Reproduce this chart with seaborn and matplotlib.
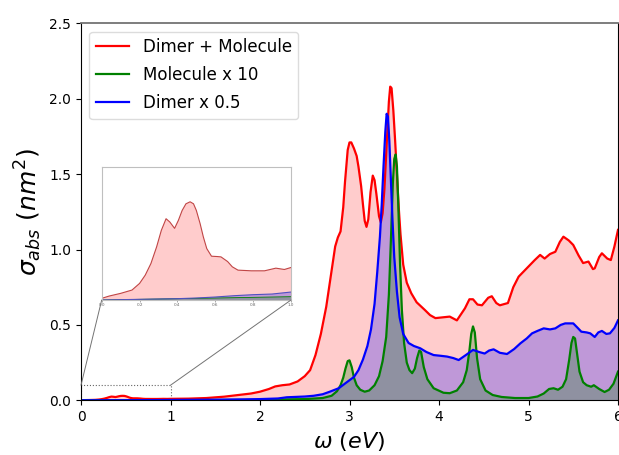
import numpy as np
import pandas as pd
import matplotlib
matplotlib.use("Agg")
import matplotlib.pyplot as plt
import seaborn as sns
from matplotlib.patches import Rectangle, ConnectionPatch

# ---------------- data ----------------
x_red = [0.0, 0.04, 0.1, 0.16, 0.2, 0.23, 0.26, 0.29, 0.315, 0.34, 0.36, 0.385,
         0.405, 0.425, 0.445, 0.467, 0.485, 0.5, 0.52, 0.537, 0.555, 0.58, 0.61,
         0.63, 0.665, 0.69, 0.72, 0.79, 0.86, 0.92, 0.965, 1.0, 1.2, 1.4, 1.6, 1.8,
         1.9, 2.0, 2.1, 2.17, 2.25, 2.33, 2.42, 2.5, 2.56, 2.62, 2.68, 2.74, 2.8,
         2.84, 2.87, 2.9, 2.93, 2.95, 2.98, 3.0, 3.02, 3.05, 3.08, 3.1, 3.13, 3.15,
         3.17, 3.19, 3.21, 3.235, 3.26, 3.28, 3.3, 3.33, 3.35, 3.37, 3.39, 3.42,
         3.44, 3.455, 3.47, 3.49, 3.51, 3.53, 3.55, 3.57, 3.6, 3.64, 3.69, 3.75,
         3.84, 3.9, 3.96, 4.04, 4.12, 4.2, 4.29, 4.34, 4.38, 4.43, 4.48, 4.55, 4.59,
         4.64, 4.68, 4.77, 4.83, 4.89, 4.98, 5.07, 5.13, 5.18, 5.24, 5.3, 5.35,
         5.39, 5.45, 5.5, 5.56, 5.61, 5.67, 5.72, 5.74, 5.79, 5.82, 5.88, 5.92,
         5.96, 6.0]
y_red = [0.0005, 0.0012, 0.002, 0.003, 0.005, 0.0075, 0.011, 0.016, 0.021, 0.0245,
         0.0235, 0.0216, 0.024, 0.027, 0.029, 0.0296, 0.029, 0.027, 0.023, 0.019,
         0.0155, 0.0132, 0.0131, 0.013, 0.0116, 0.01, 0.009, 0.0088, 0.0088, 0.0096,
         0.0092, 0.0098, 0.011, 0.015, 0.024, 0.038, 0.045, 0.057, 0.075, 0.092,
         0.1, 0.105, 0.125, 0.16, 0.2, 0.3, 0.44, 0.62, 0.86, 1.02, 1.08, 1.12,
         1.28, 1.45, 1.66, 1.71, 1.71, 1.67, 1.62, 1.55, 1.42, 1.3, 1.19, 1.15,
         1.2, 1.38, 1.49, 1.46, 1.37, 1.22, 1.18, 1.24, 1.4, 1.75, 1.98, 2.08,
         2.07, 1.92, 1.72, 1.5, 1.28, 1.1, 0.9, 0.78, 0.71, 0.65, 0.6, 0.565, 0.545,
         0.55, 0.555, 0.53, 0.61, 0.67, 0.67, 0.635, 0.63, 0.68, 0.69, 0.645, 0.63,
         0.645, 0.75, 0.82, 0.875, 0.93, 0.964, 0.94, 0.97, 0.985, 1.05, 1.085,
         1.06, 1.03, 0.96, 0.91, 0.92, 0.87, 0.875, 0.95, 0.975, 0.94, 0.93, 1.02,
         1.13]

x_green = [0.0, 1.0, 2.0, 2.5, 2.7, 2.8, 2.86, 2.9, 2.93, 2.955, 2.98, 3.0, 3.025,
           3.05, 3.08, 3.12, 3.17, 3.22, 3.28, 3.33, 3.37, 3.41, 3.44, 3.465, 3.485,
           3.5, 3.515, 3.53, 3.545, 3.565, 3.585, 3.61, 3.64, 3.67, 3.7, 3.73, 3.755,
           3.78, 3.8, 3.83, 3.87, 3.94, 4.05, 4.12, 4.2, 4.27, 4.31, 4.34, 4.36,
           4.38, 4.4, 4.425, 4.46, 4.52, 4.6, 4.7, 4.85, 5.0, 5.1, 5.17, 5.23, 5.28,
           5.33, 5.38, 5.42, 5.455, 5.48, 5.5, 5.52, 5.545, 5.57, 5.61, 5.65, 5.7,
           5.73, 5.79, 5.85, 5.9, 5.95, 6.0]
y_green = [0.0, 0.001, 0.003, 0.008, 0.015, 0.03, 0.06, 0.1, 0.15, 0.21, 0.26,
           0.265, 0.22, 0.15, 0.1, 0.07, 0.057, 0.065, 0.1, 0.16, 0.26, 0.42, 0.7,
           1.1, 1.45, 1.6, 1.63, 1.55, 1.3, 0.9, 0.6, 0.38, 0.25, 0.2, 0.18, 0.21,
           0.28, 0.33, 0.32, 0.22, 0.14, 0.08, 0.05, 0.047, 0.065, 0.12, 0.2, 0.33,
           0.44, 0.49, 0.45, 0.28, 0.14, 0.065, 0.035, 0.022, 0.015, 0.015, 0.025,
           0.045, 0.075, 0.08, 0.07, 0.09, 0.14, 0.27, 0.38, 0.42, 0.41, 0.3, 0.19,
           0.12, 0.1, 0.09, 0.1, 0.075, 0.055, 0.07, 0.11, 0.19]

x_blue = [0.0, 0.2, 0.4, 0.5, 0.6, 0.7, 0.8, 0.9, 1.0, 1.2, 1.5, 1.8, 2.0, 2.2, 2.3,
          2.5, 2.6, 2.7, 2.78, 2.88, 2.97, 3.05, 3.1, 3.15, 3.2, 3.24, 3.28, 3.31,
          3.34, 3.36, 3.38, 3.4, 3.415, 3.43, 3.445, 3.46, 3.48, 3.5, 3.53, 3.56,
          3.6, 3.66, 3.72, 3.79, 3.86, 3.94, 4.02, 4.09, 4.16, 4.22, 4.3, 4.38,
          4.45, 4.51, 4.56, 4.61, 4.68, 4.76, 4.84, 4.91, 4.98, 5.04, 5.1, 5.17,
          5.24, 5.3, 5.36, 5.41, 5.5, 5.55, 5.59, 5.65, 5.69, 5.74, 5.78, 5.82,
          5.87, 5.91, 5.96, 6.0]
y_blue = [0.0, 0.0002, 0.0004, 0.0006, 0.0009, 0.0013, 0.0016, 0.0018, 0.0024, 0.003,
          0.004, 0.006, 0.008, 0.012, 0.02, 0.025, 0.03, 0.04, 0.057, 0.08, 0.12,
          0.155, 0.2, 0.27, 0.36, 0.47, 0.64, 0.85, 1.085, 1.3, 1.55, 1.78, 1.9,
          1.88, 1.72, 1.5, 1.2, 0.95, 0.72, 0.55, 0.44, 0.38, 0.36, 0.345, 0.32,
          0.3, 0.295, 0.29, 0.28, 0.267, 0.3, 0.334, 0.32, 0.31, 0.33, 0.338, 0.315,
          0.307, 0.34, 0.378, 0.41, 0.444, 0.46, 0.477, 0.47, 0.477, 0.5, 0.51,
          0.51, 0.48, 0.455, 0.45, 0.444, 0.42, 0.45, 0.46, 0.44, 0.444, 0.48, 0.53]

labels = ["Dimer + Molecule", "Molecule x 10", "Dimer x 0.5"]
x_ticks = [0, 1, 2, 3, 4, 5, 6]
y_ticks = [0.0, 0.5, 1.0, 1.5, 2.0, 2.5]
inset_ticks = [0.0, 0.2, 0.4, 0.6, 0.8, 1.0]

series = [(x_red, y_red, "red", 0.2), (x_green, y_green, "green", 0.25),
          (x_blue, y_blue, "blue", 0.25)]

# ---------------- figure ----------------
W, H = 619, 455
fig = plt.figure(figsize=(W / 100, H / 100), dpi=100)
ax = fig.add_axes([81 / W, 1 - 400.3 / H, (618 - 81) / W, (400.3 - 23.3) / H])

# fills: red, blue, green (back to front)
for idx in [0, 2, 1]:
    xs, ys, c, a = series[idx]
    ax.fill_between(xs, ys, 0, color=c, alpha=a, lw=0)

for (xs, ys, c, a), lab in zip(series, labels):
    df = pd.DataFrame({"omega": xs, "sigma": ys})
    sns.lineplot(data=df, x="omega", y="sigma", color=c, lw=1.6, label=lab,
                 ax=ax, estimator=None, sort=False, solid_joinstyle="round")

ax.set_xlim(0, 6)
ax.set_ylim(0, 2.5)
ax.set_xticks(x_ticks)
ax.set_yticks(y_ticks)
ax.tick_params(labelsize=10)
ax.set_xlabel(r"$\omega\ (eV)$", fontsize=16)
ax.set_ylabel(r"$\sigma_{abs}\ (nm^2)$", fontsize=18)
ax.spines["top"].set_color("0.45")
ax.spines["top"].set_linewidth(1.3)
leg = ax.legend(loc="upper left", fontsize=12, labelspacing=0.6,
                frameon=True, framealpha=0.9)
leg.get_frame().set_edgecolor("0.85")

# inset
axins = fig.add_axes([101.7 / W, 1 - 300 / H, (291 - 101.7) / W, (300 - 167.3) / H])
for idx in [0, 2, 1]:
    xs, ys, c, a = series[idx]
    axins.fill_between(xs, ys, 0, color=c, alpha=a, lw=0)
for (xs, ys, c, a), lw, lc in zip(series, [0.8, 0.6, 0.8], ["#c04545", "green", "#5050c0"]):
    df = pd.DataFrame({"omega": xs, "sigma": ys})
    sns.lineplot(data=df, x="omega", y="sigma", color=lc, lw=lw, ax=axins,
                 estimator=None, sort=False, legend=False)
axins.set_xlim(0, 1)
axins.set_ylim(0, 0.04)
axins.set_xticks(inset_ticks)
axins.set_xticklabels([f"{t:.1f}" for t in inset_ticks])
axins.set_yticks([])
axins.set_xlabel("")
axins.set_ylabel("")
axins.tick_params(axis="x", labelsize=3, length=1.5, width=0.4, pad=1,
                  colors="0.4")
for sp in axins.spines.values():
    sp.set_color("0.75")
    sp.set_linewidth(0.8)

# zoom-region marker and connectors
rect = Rectangle((0, 0), 1, 0.1, fill=False, ec="0.4", lw=0.8, ls=":")
ax.add_patch(rect)
for xa, xb in [(0, 0), (1, 1)]:
    con = ConnectionPatch(xyA=(xa, 0.1), coordsA=ax.transData,
                          xyB=(xb, 0), coordsB=axins.transAxes,
                          color="0.45", lw=0.7)
    fig.add_artist(con)

fig.savefig("out.png", dpi=100)
